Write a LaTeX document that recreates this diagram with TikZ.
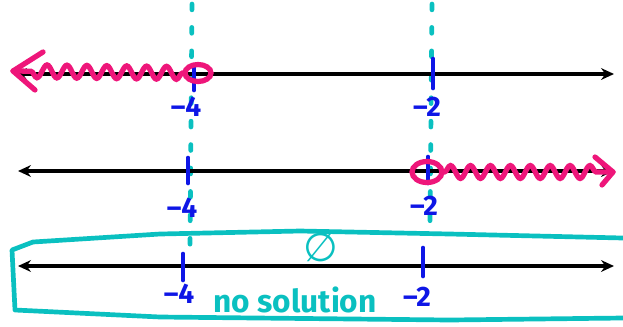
\documentclass[tikz,border=0pt]{standalone}
\usepackage{fontspec}
\setmainfont{Fira Sans}
\newfontfamily\symfont{DejaVu Sans}
\usetikzlibrary{arrows.meta,calc,decorations.pathmorphing}
\definecolor{inkpink}{RGB}{238,22,122}
\definecolor{inkcyan}{RGB}{10,192,192}
\definecolor{inkblue}{RGB}{14,22,230}
\tikzset{
  numline/.style={line width=2.8pt,{Stealth[length=11pt,width=10pt]}-{Stealth[length=11pt,width=10pt]}},
  tick/.style={inkblue,line width=4pt,line cap=round},
  numlabel/.style={inkblue,font=\fontsize{24}{24}\selectfont\bfseries,inner sep=0pt},
  guide/.style={inkcyan,line width=4pt,dash pattern=on 5pt off 15pt,line cap=round},
  ray/.style={inkpink,line width=4.5pt,line cap=round,decorate,decoration={snake,amplitude=5.5pt,segment length=17pt,pre length=2pt,post length=10pt}},
  openpt/.style={inkpink,line width=4.5pt}
}
\begin{document}
\begin{tikzpicture}[x=0.03cm,y=-0.03cm]
\useasboundingbox (0,0) rectangle (623,326);
% guide lines through the boundary points
\coordinate (g4top) at (192,4); \coordinate (g4bot) at (190,246);
\coordinate (g2top) at (432,4); \coordinate (g2bot) at (430,224);
\draw[guide] (g4top) -- (g4bot);
\draw[guide] (g2top) -- (g2bot);
% first number line
\coordinate (a1) at (14,74); \coordinate (b1) at (614,74);
\draw[numline] (a1) -- (b1);
\coordinate (p4a) at (194,74); \coordinate (p2a) at (433,74);
\draw[tick] ($(p4a)+(0,-6)$) -- ($(p4a)+(0,16)$);
\draw[tick] ($(p2a)+(0,-15)$) -- ($(p2a)+(0,14)$);
\node[numlabel] (l4a) at (186,107) {–4};
\node[numlabel] (l2a) at (427,107) {–2};
\draw[openpt] (198,73) ellipse (13 and 8.5);
\coordinate (tipa) at (13,71);
\draw[ray] (185,73) -- (tipa);
\draw[openpt,line cap=round,line join=round] (43,52) -- (tipa) -- (35,90);
% second number line
\coordinate (a2) at (18,171); \coordinate (b2) at (614,171);
\draw[numline] (a2) -- (b2);
\coordinate (p4b) at (188,171); \coordinate (p2b) at (428,171);
\draw[tick] ($(p4b)+(0,-13)$) -- ($(p4b)+(0,12)$);
\draw[tick] ($(p2b)+(0,-14)$) -- ($(p2b)+(0,12)$);
\node[numlabel] (l4b) at (182,208) {–4};
\node[numlabel] (l2b) at (424,206) {–2};
\draw[openpt] (427,172) ellipse (15 and 10.5);
\coordinate (tipb) at (613,172);
\draw[ray] (442,172) -- (tipb);
\draw[openpt,line cap=round,line join=round] (595,157) -- (tipb) -- (602,185);
% third number line with the empty set
\coordinate (a3) at (18,266); \coordinate (b3) at (614,266);
\draw[numline] (a3) -- (b3);
\coordinate (p4c) at (183,266); \coordinate (p2c) at (423,266);
\draw[tick] ($(p4c)+(0,-12)$) -- ($(p4c)+(0,14)$);
\draw[tick] ($(p2c)+(0,-18)$) -- ($(p2c)+(0,10)$);
\node[numlabel] (l4c) at (179,294) {–4};
\node[numlabel] (l2c) at (417,297) {–2};
\node[inkcyan,font=\symfont\fontsize{34}{34}\selectfont,inner sep=0pt] (empty) at (321,248) {∅};
\node[inkcyan,font=\fontsize{27}{27}\selectfont\bfseries,inner sep=0pt] (nosol) at (295,300) {no solution};
\draw[inkcyan,line width=4pt,line join=round,line cap=round]
  (623,238) -- (450,234) -- (300,231) -- (160,234) -- (33,242) -- (12,250) -- (15,310) -- (160,317) -- (450,320) -- (623,318);
\end{tikzpicture}
\end{document}
